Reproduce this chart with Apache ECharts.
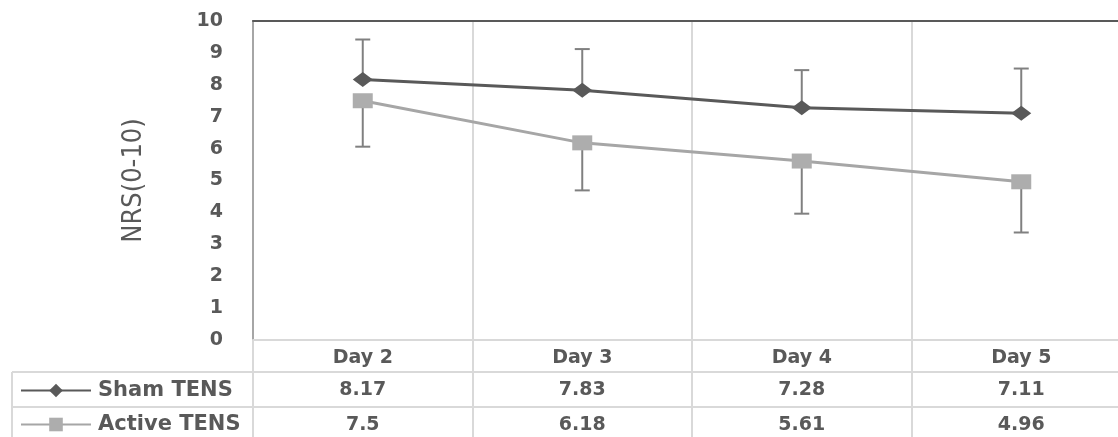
<!DOCTYPE html>
<html>
<head>
<meta charset="utf-8">
<script src="https://cdn.jsdelivr.net/npm/echarts@6/dist/echarts.min.js"></script>
<style>
html,body{margin:0;padding:0;background:#fff;}
#chart{width:1118px;height:437px;}
</style>
</head>
<body>
<div id="chart"></div>
<script>
// ---- data ----
const categories = ['Day 2', 'Day 3', 'Day 4', 'Day 5'];
const seriesNames = ['Sham TENS', 'Active TENS'];
const shamMean = [8.17, 7.83, 7.28, 7.11];
const shamErr = [1.25, 1.29, 1.18, 1.40];
const activeMean = [7.5, 6.18, 5.61, 4.96];
const activeErr = [1.44, 1.49, 1.65, 1.59];
const yTickLabels = ['0','1','2','3','4','5','6','7','8','9','10'];

// ---- layout ----
const W = 1118, H = 437;
const gridLeft = 253, gridTop = 21, gridBottomY = 340, gridWidth = 878;
const rowLines = [372, 407];
const tableLeft = 12;
const textColor = '#595959';
const tableLine = '#d9d9d9';
const boldFont = 'DejaVu Sans';

const chart = echarts.init(document.getElementById('chart'), null, {renderer: 'canvas'});

function errorSeries(name, means, errs, dir) {
  return {
    type: 'custom',
    name: name + ' err',
    xAxisIndex: 0,
    yAxisIndex: 0,
    z: 1,
    silent: true,
    clip: false,
    data: means.map((m, i) => [i, m, m + dir * errs[i]]),
    renderItem: function (params, api) {
      const p0 = api.coord([api.value(0), api.value(1)]);
      const p1 = api.coord([api.value(0), api.value(2)]);
      const cap = 7.5;
      const st = {stroke: '#808080', lineWidth: 2};
      return {
        type: 'group',
        children: [
          {type: 'line', shape: {x1: p0[0], y1: p0[1], x2: p1[0], y2: p1[1]}, style: st},
          {type: 'line', shape: {x1: p1[0] - cap, y1: p1[1], x2: p1[0] + cap, y2: p1[1]}, style: st}
        ]
      };
    }
  };
}

const fmt = v => String(v);

const option = {
  animation: false,
  backgroundColor: '#fff',
  grid: {
    left: gridLeft,
    top: gridTop,
    width: gridWidth,
    height: gridBottomY - gridTop,
    containLabel: false,
    outerBoundsMode: 'none'
  },
  legend: {
    orient: 'vertical',
    left: 20,
    top: 380,
    padding: 0,
    itemWidth: 70,
    itemHeight: 17,
    itemGap: 13,
    data: seriesNames,
    lineStyle: {width: 2},
    textStyle: {color: textColor, fontFamily: boldFont, fontWeight: 'bold', fontSize: 21, padding: [0, 0, 0, 2]},
    selectedMode: false
  },
  xAxis: [
    {
      type: 'category',
      data: categories,
      position: 'bottom',
      boundaryGap: true,
      axisLine: {show: true, lineStyle: {color: tableLine, width: 2}},
      axisTick: {show: true, length: H - gridBottomY, lineStyle: {color: tableLine, width: 2}},
      splitLine: {show: true, lineStyle: {color: tableLine, width: 2}},
      axisLabel: {color: textColor, fontFamily: boldFont, fontWeight: 'bold', fontSize: 19, margin: 9}
    },
    {
      type: 'category',
      data: shamMean.map(fmt),
      position: 'bottom',
      offset: rowLines[0] - gridBottomY,
      axisLine: {show: false},
      axisTick: {show: false},
      axisLabel: {color: textColor, fontFamily: boldFont, fontWeight: 'bold', fontSize: 19, margin: 9}
    },
    {
      type: 'category',
      data: activeMean.map(fmt),
      position: 'bottom',
      offset: rowLines[1] - gridBottomY,
      axisLine: {show: false},
      axisTick: {show: false},
      axisLabel: {color: textColor, fontFamily: boldFont, fontWeight: 'bold', fontSize: 19, margin: 9}
    },
    {
      type: 'category',
      data: categories,
      position: 'top',
      axisLine: {show: true, lineStyle: {color: textColor, width: 2}},
      axisTick: {show: false},
      axisLabel: {show: false}
    }
  ],
  yAxis: {
    type: 'value',
    min: 0,
    max: 10,
    interval: 1,
    name: 'NRS(0-10)',
    nameLocation: 'middle',
    nameRotate: 90,
    nameGap: 106,
    nameTextStyle: {color: textColor, fontFamily: 'DejaVu Sans Condensed, DejaVu Sans, sans-serif', fontSize: 27},
    axisLine: {show: true, lineStyle: {color: '#a6a6a6', width: 2}},
    axisTick: {show: false},
    splitLine: {show: false},
    axisLabel: {
      color: textColor, fontFamily: boldFont, fontWeight: 'bold', fontSize: 19, margin: 30,
      formatter: (v) => yTickLabels[Math.round(v)]
    }
  },
  series: [
    errorSeries(seriesNames[0], shamMean, shamErr, 1),
    errorSeries(seriesNames[1], activeMean, activeErr, -1),
    {
      type: 'line',
      name: seriesNames[0],
      data: shamMean,
      z: 3,
      symbol: 'diamond',
      symbolSize: [20, 15],
      lineStyle: {color: '#595959', width: 3},
      itemStyle: {color: '#595959'}
    },
    {
      type: 'line',
      name: seriesNames[1],
      data: activeMean,
      z: 3,
      symbol: 'rect',
      symbolSize: [20, 15],
      lineStyle: {color: '#a6a6a6', width: 3},
      itemStyle: {color: '#adadad'}
    }
  ],
  graphic: [
    {type: 'line', silent: true, shape: {x1: tableLeft, y1: rowLines[0], x2: W, y2: rowLines[0]}, style: {stroke: tableLine, lineWidth: 2}},
    {type: 'line', silent: true, shape: {x1: tableLeft, y1: rowLines[1], x2: W, y2: rowLines[1]}, style: {stroke: tableLine, lineWidth: 2}},
    {type: 'line', silent: true, shape: {x1: tableLeft, y1: rowLines[0], x2: tableLeft, y2: H}, style: {stroke: tableLine, lineWidth: 2}}
  ]
};

chart.setOption(option);
</script>
</body>
</html>
